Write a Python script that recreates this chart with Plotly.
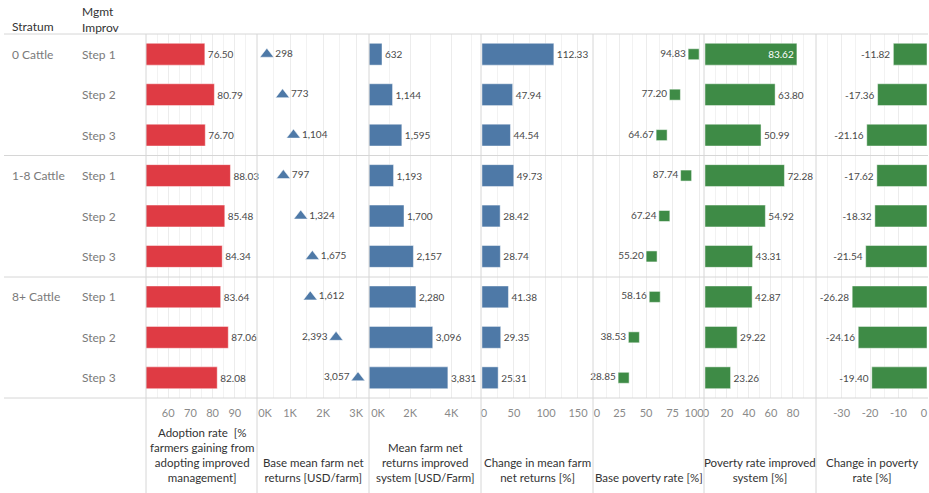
import plotly.graph_objects as go

W, H = 929, 493

strata = ["0 Cattle", "1-8 Cattle", "8+ Cattle"]
steps = ["Step 1", "Step 2", "Step 3"]

adoption = [76.50, 80.79, 76.70, 88.03, 85.48, 84.34, 83.64, 87.06, 82.08]
base_returns = [298, 773, 1104, 797, 1324, 1675, 1612, 2393, 3057]
improved_returns = [632, 1144, 1595, 1193, 1700, 2157, 2280, 3096, 3831]
change_returns = [112.33, 47.94, 44.54, 49.73, 28.42, 28.74, 41.38, 29.35, 25.31]
base_poverty = [94.83, 77.20, 64.67, 87.74, 67.24, 55.20, 58.16, 38.53, 28.85]
poverty_improved = [83.62, 63.80, 50.99, 72.28, 54.92, 43.31, 42.87, 29.22, 23.26]
change_poverty = [-11.82, -17.36, -21.16, -17.62, -18.32, -21.54, -26.28, -24.16, -19.40]

titles = [
    "Adoption rate  [%<br>farmers gaining from<br>adopting improved<br>management]",
    "Base mean farm net<br>returns [USD/farm]",
    "Mean farm net<br>returns improved<br>system [USD/Farm]",
    "Change in mean farm<br>net returns [%]",
    "Base poverty rate [%]",
    "Poverty rate improved<br>system [%]",
    "Change in poverty<br>rate [%]",
]

tick_vals = [
    [60, 70, 80, 90],
    [0, 1000, 2000, 3000],
    [0, 2000, 4000],
    [0, 50, 100, 150],
    [0, 25, 50, 75, 100],
    [0, 20, 40, 60, 80],
    [-30, -20, -10, 0],
]
tick_text = [
    ["60", "70", "80", "90"],
    ["", "1K", "2K", "3K"],
    ["", "2K", "4K"],
    ["", "50", "100", "150"],
    ["", "25", "50", "75", ""],
    ["", "20", "40", "60", "80"],
    ["-30", "-20", "-10", ""],
]
# labels at panel edges, drawn on overlay axes so they can be nudged inward
edge_panel = [1, 2, 3, 4, 4, 5, 6]
edge_val = [0, 0, 0, 0, 100, 0, 0]
edge_text = ["0K", "0K", "0", "0", "100", "0", "0"]
edge_shift = [8, 9, 2, 4, -5, 1, -3]

minor_vals = [
    [55, 65, 75, 85, 95],
    [500, 1500, 2500],
    [1000, 3000, 5000],
    [25, 75, 125],
    [12.5, 37.5, 62.5, 87.5],
    [10, 30, 50, 70, 90],
    [-35, -25, -15, -5],
]
ranges = [
    [50, 100],
    [0, 3390],
    [0, 5440],
    [-1.5, 173.5],
    [0, 104.6],
    [-0.9, 101],
    [-39, 0.35],
]

edges = [146, 257, 369, 481, 593, 704, 816, 928]
RED = "#DF3B44"
BLUE = "#4E79A7"
GREEN = "#3E8B46"
LBL = "#4a4a4a"
FONT = "Lato"
TICKFONT = dict(family=FONT, size=11, color="#8a8a8a")

rows = list(range(9))
fig = go.Figure()


def fmt2(v):
    return f"{v:.2f}"


def fmtk(v):
    return f"{v:,.0f}"


def add_bar(vals, ax, color, fmt, inside_over=None):
    texts = [fmt(v) for v in vals]
    pos = []
    for v in vals:
        if inside_over is not None and v > inside_over:
            pos.append("inside")
        else:
            pos.append("outside")
    fig.add_trace(go.Bar(
        x=vals, y=rows, orientation="h", xaxis=ax, yaxis="y",
        width=0.54, marker=dict(color=color, line=dict(color="rgba(255,255,255,0.45)", width=1)),
        text=texts, textposition=pos, insidetextanchor="end",
        constraintext="none", cliponaxis=False,
        outsidetextfont=dict(family=FONT, size=10, color=LBL),
        insidetextfont=dict(family=FONT, size=10, color="white"),
        hoverinfo="skip",
    ))


def add_marker(vals, ax, symbol, color, size, fmt, left_over=None, all_left=False):
    texts = [fmt(v) for v in vals]
    pos = []
    for v in vals:
        if all_left or (left_over is not None and v > left_over):
            pos.append("middle left")
        else:
            pos.append("middle right")
    fig.add_trace(go.Scatter(
        x=vals, y=rows, xaxis=ax, yaxis="y", mode="markers+text",
        marker=dict(symbol=symbol, size=size, color=color,
                    line=dict(color="rgba(255,255,255,0.5)", width=1)),
        text=texts, textposition=pos, cliponaxis=False,
        textfont=dict(family=FONT, size=10, color=LBL),
        hoverinfo="skip",
    ))


add_bar(adoption, "x", RED, fmt2)
add_marker(base_returns, "x2", "triangle-up", BLUE, 12, fmtk, left_over=2000)
add_bar(improved_returns, "x3", BLUE, fmtk)
add_bar(change_returns, "x4", BLUE, fmt2)
add_marker(base_poverty, "x5", "square", GREEN, 11, fmt2, all_left=True)
add_bar(poverty_improved, "x6", GREEN, fmt2, inside_over=80)
add_bar(change_poverty, "x7", GREEN, fmt2)

y_top, y_bot = 34, 398
ydom = [1 - y_bot / H, 1 - y_top / H]

layout = dict(
    width=W, height=H,
    margin=dict(l=0, r=0, t=0, b=0),
    paper_bgcolor="white", plot_bgcolor="white",
    showlegend=False, bargap=0.4,
    font=dict(family=FONT, color="#333"),
    yaxis=dict(domain=ydom, range=[8.5, -0.5], showticklabels=False, showgrid=False,
               zeroline=False, showline=False, fixedrange=True),
)

for i in range(7):
    name = "xaxis" if i == 0 else f"xaxis{i+1}"
    layout[name] = dict(
        domain=[edges[i] / W, edges[i + 1] / W],
        range=ranges[i], anchor="y",
        tickmode="array", tickvals=tick_vals[i], ticktext=tick_text[i],
        showgrid=True, gridcolor="#ececec", gridwidth=1,
        minor=dict(tickmode="array", tickvals=minor_vals[i], showgrid=True,
                   gridcolor="#f2f2f2", gridwidth=1),
        zeroline=False, showline=False,
        ticks="outside", ticklen=5, tickcolor="rgba(0,0,0,0)",
        tickfont=TICKFONT, fixedrange=True,
    )

for k in range(len(edge_panel)):
    p = edge_panel[k]
    axn = 8 + k
    base = "x" if p == 0 else f"x{p+1}"
    layout[f"xaxis{axn}"] = dict(
        domain=[edges[p] / W, edges[p + 1] / W],
        range=ranges[p], anchor="y", overlaying=base,
        tickmode="array", tickvals=[edge_val[k]], ticktext=[edge_text[k]],
        ticklabelshift=edge_shift[k],
        showgrid=False, zeroline=False, showline=False,
        ticks="outside", ticklen=5, tickcolor="rgba(0,0,0,0)",
        tickfont=TICKFONT, fixedrange=True,
    )
    fig.add_trace(go.Scatter(x=[None], y=[None], xaxis=f"x{axn}", yaxis="y",
                             mode="markers", showlegend=False, hoverinfo="skip"))

fig.update_layout(**layout)

shapes = []
LINE = "#d6d6d6"
for py in [34, 155.5, 277, 398]:
    shapes.append(dict(type="line", xref="paper", yref="paper",
                       x0=4 / W, x1=928 / W, y0=1 - py / H, y1=1 - py / H,
                       line=dict(color=LINE, width=1)))
for px in edges[:-1]:
    shapes.append(dict(type="line", xref="paper", yref="paper",
                       x0=px / W, x1=px / W, y0=0, y1=1 - 34 / H,
                       line=dict(color=LINE, width=1)))

annotations = []
annotations.append(dict(text="Stratum", xref="paper", yref="paper", x=10 / W, y=1 - 27 / H,
                        xanchor="left", yanchor="middle", showarrow=False,
                        font=dict(family=FONT, size=12, color="#333")))
annotations.append(dict(text="Mgmt<br>Improv", xref="paper", yref="paper", x=80 / W, y=1 - 19.5 / H,
                        xanchor="left", yanchor="middle", showarrow=False, align="left",
                        font=dict(family=FONT, size=12, color="#333")))
for gi, s in enumerate(strata):
    annotations.append(dict(text=s, xref="paper", yref="y", x=10 / W, y=gi * 3,
                            xanchor="left", yanchor="middle", showarrow=False,
                            font=dict(family=FONT, size=12, color="#7a7a7a")))
    for si, st in enumerate(steps):
        annotations.append(dict(text=st, xref="paper", yref="y", x=80 / W, y=gi * 3 + si,
                                xanchor="left", yanchor="middle", showarrow=False,
                                font=dict(family=FONT, size=12, color="#7a7a7a")))
for i, t in enumerate(titles):
    annotations.append(dict(text=t, xref="paper", yref="paper",
                            x=(edges[i] + edges[i + 1]) / 2 / W, y=1 - 486 / H,
                            xanchor="center", yanchor="bottom", showarrow=False, align="center",
                            font=dict(family=FONT, size=11.5, color="#333")))

fig.update_layout(shapes=shapes, annotations=annotations)
fig.write_html(
    "out.html",
    config={"displayModeBar": False},
    post_script="document.body.style.margin='0';document.body.style.overflow='hidden';",
)
